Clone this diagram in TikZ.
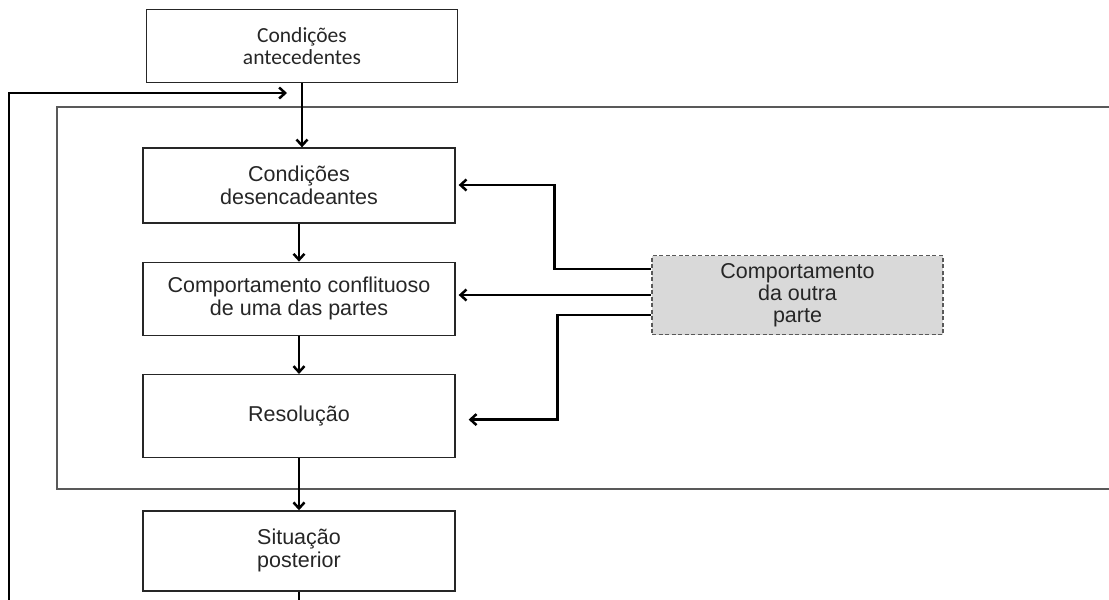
\documentclass[tikz,border=0pt]{standalone}
\usepackage{fontspec}
\setmainfont{Liberation Sans}
\newfontfamily\calibrifont{Carlito}
\usetikzlibrary{positioning, arrows.meta}
\tikzset{
    base/.style={draw=black!85, line width=1.3pt, rectangle, minimum width=312pt, align=center, text=black!85, font=\fontsize{21.5}{23}\selectfont},
    other/.style={base, draw=black!65, dash pattern=on 4pt off 2.5pt, fill=black!15, minimum width=291pt, minimum height=79pt, font=\fontsize{21.5}{22}\selectfont},
    frame/.style={draw=black!65, line width=1.3pt},
    arrow/.style={line width=2.5pt, -{Straight Barb[length=6pt, width=11pt]}}
}

\begin{document}
\begin{tikzpicture}[x=1pt, y=-1pt]
\useasboundingbox (0,0) rectangle (1109,600);
% outer frame, cut off at the right
\draw[frame] (1115,107) -- (57,107) -- (57,489) -- (1115,489);

\node[base, minimum width=311pt, minimum height=73pt, font=\calibrifont\fontsize{21.5}{22}\selectfont] (ante) at (302,46) {Condições\\antecedentes};
\node[base, minimum height=75pt] (desenc) at (299,185.5) {Condições\\desencadeantes};
\node[base, minimum height=73pt, below=38pt of desenc] (comport) {Comportamento conflituoso\\de uma das partes};
\node[base, minimum height=83pt, below=38pt of comport] (resol) {Resolução};
\node[base, minimum height=80pt, below=52pt of resol] (post) {Situação\\posterior};
\node[other] (outra) at (797.5,295) {Comportamento\\da outra\\parte};

\coordinate (entry) at (287,93);

\draw[arrow] (ante.south) -- (ante.south |- desenc.north);
\draw[arrow] (desenc) -- (comport);
\draw[arrow] (comport) -- (resol);
\draw[arrow] (resol) -- (post);
\draw[arrow] (post.south) -- ++(0,40) -| (9,93) -- (entry);

\draw[arrow] ([yshift=26pt]outra.west) -- ++(-97,0) |- ([xshift=3pt,yshift=0.5pt]desenc.east);
\draw[arrow] (outra.west) -- ([xshift=3pt]outra.west -| comport.east);
\draw[arrow] ([yshift=-20pt]outra.west) -- ++(-94,0) |- ([xshift=13pt,yshift=-3.5pt]resol.east);
\end{tikzpicture}
\end{document}
